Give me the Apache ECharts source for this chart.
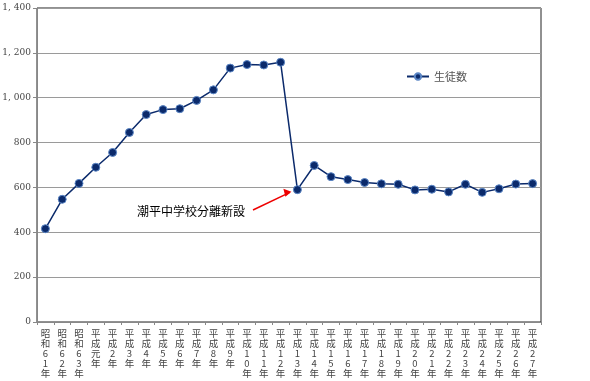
<!DOCTYPE html>
<html><head><meta charset="utf-8">
<script src="https://cdn.jsdelivr.net/npm/echarts@6/dist/echarts.min.js"></script>
<style>html,body{margin:0;padding:0;background:#fff}#c{width:590px;height:381px}</style>
</head><body><div id="c"></div>
<script>
const categories = ['昭和61年','昭和62年','昭和63年','平成元年','平成2年','平成3年','平成4年','平成5年','平成6年','平成7年','平成8年','平成9年','平成10年','平成11年','平成12年','平成13年','平成14年','平成15年','平成16年','平成17年','平成18年','平成19年','平成20年','平成21年','平成22年','平成23年','平成24年','平成25年','平成26年','平成27年'];
const students = [416,547,618,690,756,845,925,947,951,988,1035,1132,1148,1146,1158,590,698,648,635,622,616,614,589,592,580,614,578,594,615,617];
const seriesName = '生徒数';
const annotationText = '潮平中学校分離新設';

const chart = echarts.init(document.getElementById('c'));
const fontAx = '"Noto Sans CJK JP","DejaVu Serif",serif';
chart.setOption({
  animation:false,
  grid:{left:37,right:49,top:8,bottom:59,outerBoundsMode:'none',containLabel:false,show:true,borderColor:'#222',borderWidth:1},
  legend:{data:[seriesName],left:401,top:66,itemWidth:22,itemHeight:8,itemGap:4,
    textStyle:{fontSize:11,color:'#555',fontFamily:fontAx}},
  xAxis:{type:'category',data:categories,boundaryGap:true,
    axisLine:{lineStyle:{color:'#888'}},
    axisTick:{show:true,length:3,lineStyle:{color:'#888'}},
    axisLabel:{interval:0,fontSize:9.5,lineHeight:10,color:'#444',margin:6,verticalAlign:'top',fontFamily:fontAx,
      formatter:v=>v.split('').join('\n')}},
  yAxis:{type:'value',min:0,max:1400,interval:200,
    axisLine:{show:true,lineStyle:{color:'#888'}},
    axisTick:{show:true,length:4,lineStyle:{color:'#888'}},
    splitLine:{lineStyle:{color:'#9a9a9a'}},
    axisLabel:{fontSize:9,color:'#444',margin:6,fontFamily:'"DejaVu Serif",serif',
      formatter:v=>v>=1000? Math.floor(v/1000)+', '+String(v%1000).padStart(3,'0'):String(v)}},
  series:[{name:seriesName,type:'line',data:students,symbol:'circle',symbolSize:8,
    lineStyle:{color:'#0b2a6b',width:1.5},
    itemStyle:{color:'#0b2a6b',borderColor:'#5b86c5',borderWidth:1}}]
});
const p = chart.convertToPixel({xAxisIndex:0,yAxisIndex:0},[15,students[15]]);
chart.setOption({graphic:[
  {type:'text',left:137,top:205,style:{text:annotationText,font:'12px "Noto Sans CJK JP",sans-serif',fill:'#000'}},
  {type:'line',shape:{x1:253,y1:210,x2:p[0]-8,y2:p[1]+3},style:{stroke:'#e00',lineWidth:1.5}},
  {type:'polygon',shape:{points:[[p[0]-6,p[1]+2],[p[0]-14,p[1]-1],[p[0]-12,p[1]+7]]},style:{fill:'#e00'}}
]});
</script></body></html>
